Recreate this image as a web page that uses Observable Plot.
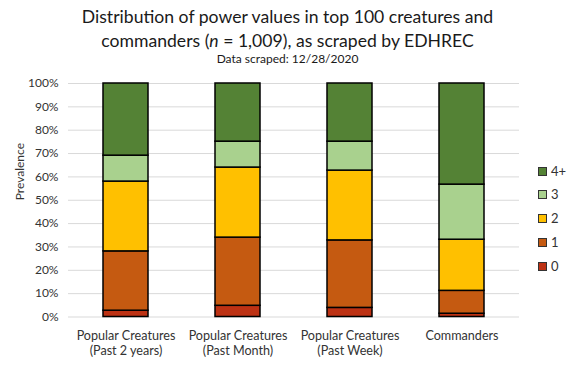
<!DOCTYPE html>
<html>
<head>
<meta charset="utf-8">
<script src="https://cdn.jsdelivr.net/npm/d3@7"></script>
<script src="https://cdn.jsdelivr.net/npm/@observablehq/plot@0.6"></script>
<style>
  html, body { margin: 0; padding: 0; background: #fff; }
  body { width: 575px; height: 366px; overflow: hidden; font-family: Lato, "Open Sans", sans-serif; }
  #wrap { position: relative; width: 575px; height: 366px; }
  #title { height: 68px; text-align: center; color: #1a1a1a; }
  #title .t { font-size: 17.6px; line-height: 24px; padding-top: 5px; }
  #title .s { font-size: 12px; line-height: 14px; margin-top: -1px; }
  #legend { position: absolute; left: 538px; top: 0; font-size: 13px; color: #333; }
  .li { position: absolute; left: 0; display: flex; align-items: center; height: 16px; white-space: nowrap; }
  .sw { width: 7px; height: 7px; border: 1px solid #333; margin-right: 4px; }
</style>
</head>
<body>
<div id="wrap">
  <div id="title">
    <div class="t">Distribution of power values in top 100 creatures and<br>commanders (<i>n</i> = 1,009), as scraped by EDHREC</div>
    <div class="s">Data scraped: 12/28/2020</div>
  </div>
  <div id="chart"></div>
  <div id="legend"></div>
</div>
<script>
const categories = ["Popular Creatures\n(Past 2 years)", "Popular Creatures\n(Past Month)", "Popular Creatures\n(Past Week)", "Commanders"];
const seriesNames = ["0", "1", "2", "3", "4+"];
const seriesColors = ["#BD3214", "#C55A11", "#FFC000", "#A9D18E", "#548235"];
const power0 = [2.7, 4.8, 3.9, 1.4];
const power1 = [25.4, 29.2, 28.9, 9.8];
const power2 = [29.9, 30.0, 29.9, 21.9];
const power3 = [11.1, 11.1, 12.4, 23.6];
const power4plus = [30.9, 24.9, 24.9, 43.3];
const yTicks = [0, 0.1, 0.2, 0.3, 0.4, 0.5, 0.6, 0.7, 0.8, 0.9, 1];
const yLabel = "Prevalence";

const seriesValues = [power0, power1, power2, power3, power4plus];
const data = [];
seriesNames.forEach((s, si) => {
  categories.forEach((c, ci) => {
    data.push({cat: c, series: s, value: seriesValues[si][ci] / 100});
  });
});

const chart = Plot.plot({
  width: 575,
  height: 298,
  marginTop: 15,
  marginBottom: 49.5,
  marginLeft: 68,
  marginRight: 56,
  style: {fontFamily: "Lato, 'Open Sans', sans-serif", color: "#333", background: "#fff"},
  x: {domain: categories, paddingInner: 0.6, paddingOuter: 0.31, label: null},
  y: {domain: [0, 1], label: null},
  color: {domain: seriesNames, range: seriesColors},
  marks: [
    Plot.gridY(yTicks, {stroke: "#d9d9d9", strokeOpacity: 1, strokeWidth: 1}),
    Plot.axisY(yTicks, {tickSize: 0, tickPadding: 10, tickFormat: d3.format(".0%"), fontSize: 12, label: null}),
    Plot.axisX({tickSize: 0, tickPadding: 12, fontSize: 12.6, lineHeight: 1.22, label: null}),
    Plot.barY(data, Plot.stackY({x: "cat", y: "value", fill: "series", stroke: "#000", strokeWidth: 1.5})),
    Plot.text([yLabel], {frameAnchor: "left", text: d => d, rotate: -90, dx: -48, fontSize: 12, fill: "#333"})
  ]
});
document.getElementById("chart").appendChild(chart);

const legend = document.getElementById("legend");
const legendY = [171, 194, 218, 242, 266];
seriesNames.slice().reverse().forEach((s, i) => {
  const idx = seriesNames.indexOf(s);
  const item = document.createElement("div");
  item.className = "li";
  item.style.top = (legendY[i] - 8) + "px";
  const sw = document.createElement("div");
  sw.className = "sw";
  sw.style.background = seriesColors[idx];
  const tx = document.createElement("span");
  tx.textContent = s;
  item.appendChild(sw);
  item.appendChild(tx);
  legend.appendChild(item);
});
</script>
</body>
</html>
